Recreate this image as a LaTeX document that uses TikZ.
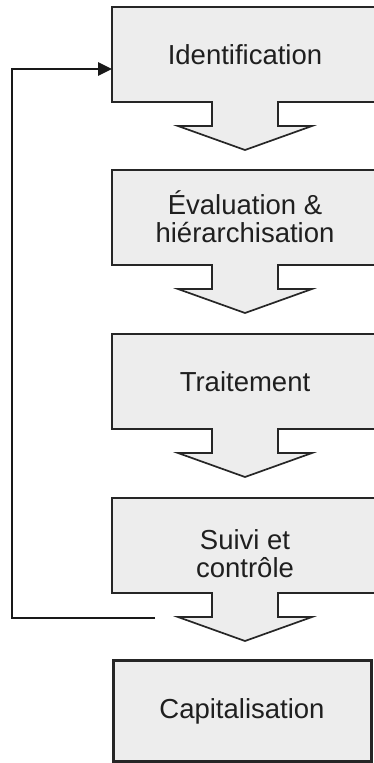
\documentclass[tikz,border=0pt]{standalone}
\usepackage{fontspec}
\setmainfont{Liberation Sans}
\usetikzlibrary{arrows.meta}

\begin{document}
\begin{tikzpicture}[
    x=1pt, y=-1pt,
    >={Triangle[length=14pt, width=13pt]},
    font=\fontsize{27.5}{27.5}\selectfont,
    stepshape/.style ={draw=black!85, line width=1.7pt, fill=black!7},
    steptext/.style  ={align=center, text=black!88, inner sep=0pt},
    lastbox/.style   ={draw=black!85, line width=3pt, fill=black!7,
                       minimum width=258pt, minimum height=101pt, inner sep=0pt,
                       align=center, text=black!88},
    flow/.style      ={->, line width=2.8pt, black!90}
]
\useasboundingbox (0,0) rectangle (373,763);

% Four steps: box with a block arrow pointing down to the next one
\foreach \t/\dy/\nm/\txt in {
    7/0/ident/Identification,
    170/-1/evalh/{Évaluation \&\\hiérarchisation},
    334/0/trait/Traitement,
    498/8/suivi/{Suivi et\\contrôle}}{
  \draw[stepshape] (112,\t) -- (378,\t) -- (378,\t+95) -- (278,\t+95)
      -- (278,\t+119) -- (312,\t+119) -- (245,\t+143) -- (178,\t+119)
      -- (212,\t+119) -- (212,\t+95) -- (112,\t+95) -- cycle;
  \node[steptext] (\nm) at (245,\t+47.5+\dy) {\txt};
}

% Last step, no arrow below
\node[lastbox] (capit) at (242,711) {Capitalisation};

% Feedback loop back to the first step
\coordinate (back)  at (155,618);
\coordinate (entry) at (112,69);
\draw[flow] (back) -- ++(-143,0) |- (entry);

\end{tikzpicture}
\end{document}
